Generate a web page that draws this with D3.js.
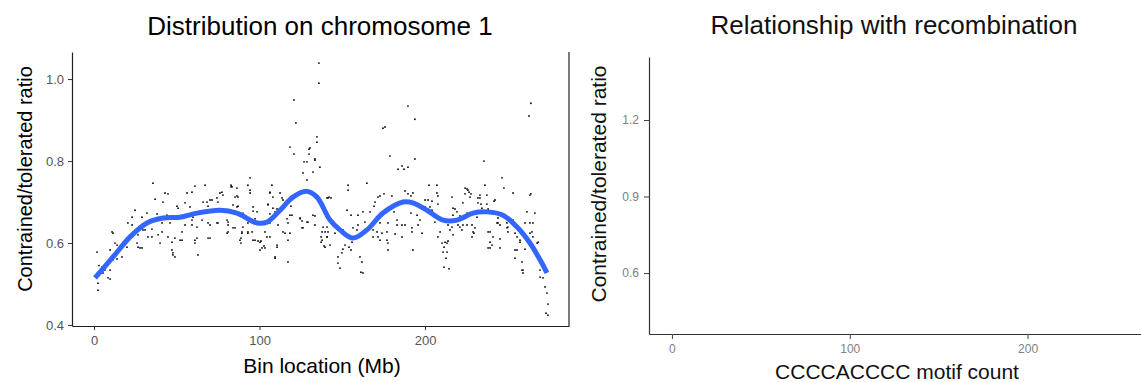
<!DOCTYPE html>
<html>
<head>
<meta charset="utf-8">
<script src="https://cdn.jsdelivr.net/npm/d3@7"></script>
<style>
  body { margin: 0; background: #fff; }
  svg { display: block; font-family: "Liberation Sans", Arial, sans-serif; }
</style>
</head>
<body>
<div id="chart"></div>
<script>
// Titles and axis labels
const leftTitle = "Distribution on chromosome 1";
const rightTitle = "Relationship with recombination";
const leftXLabel = "Bin location (Mb)";
const rightXLabel = "CCCCACCCC motif count";
const yLabel = "Contrained/tolerated ratio";

// Tick values
const leftXTicks = [0, 100, 200];
const leftYTicks = [0.4, 0.6, 0.8, 1.0];
const rightXTicks = [0, 100, 200];
const rightYTicks = [0.6, 0.9, 1.2];

// Per-bin ratios, [bin location (Mb), ratio]
const binPoints = [
  [35.6,0.746],[42.9,0.722],[44.7,0.720],[61.0,0.739],[67.1,0.741],[36.9,0.707],[41.7,0.700],[56.2,0.722],
  [59.2,0.724],[65.9,0.700],[55.0,0.698],[50.1,0.690],[24.8,0.680],[32.0,0.673],[38.1,0.671],[44.1,0.668],
  [50.8,0.685],[58.0,0.688],[64.0,0.676],[23.0,0.663],[29.0,0.663],[50.1,0.663],[59.8,0.663],[65.3,0.656],
  [20.5,0.649],[23.0,0.644],[30.8,0.632],[35.0,0.634],[41.1,0.627],[53.2,0.627],[55.0,0.644],[59.2,0.644],
  [68.9,0.649],[10.9,0.627],[11.5,0.624],[26.6,0.620],[32.6,0.615],[38.7,0.620],[48.9,0.612],[52.0,0.607],
  [61.0,0.607],[62.2,0.612],[68.9,0.612],[12.7,0.600],[13.9,0.595],[19.9,0.590],[26.6,0.590],[29.0,0.588],
  [47.1,0.602],[47.1,0.583],[47.7,0.576],[48.9,0.566],[62.8,0.571],[1.8,0.578],[9.7,0.583],[14.5,0.578],
  [16.9,0.566],[13.9,0.561],[11.5,0.559],[4.8,0.541],[6.6,0.534],[9.7,0.534],[3.6,0.527],[8.5,0.515],
  [1.8,0.517],[2.4,0.502],[2.4,0.485],[5.4,0.527],[9.7,0.512],[0.8,0.520],[3.0,0.545],
  [70.1,0.705],[74.3,0.710],[76.1,0.722],[77.9,0.717],[83.4,0.737],[86.4,0.715],[84.0,0.693],[86.4,0.688],
  [93.0,0.741],[94.3,0.759],[94.3,0.729],[96.1,0.688],[107.5,0.741],[106.3,0.724],[108.1,0.712],[112.4,0.722],
  [114.2,0.705],[105.1,0.693],[108.1,0.685],[118.4,0.834],[122.0,0.893],[120.8,0.949],[135.9,1.039],[135.9,0.990],
  [134.7,0.859],[134.7,0.846],[130.5,0.832],[128.7,0.798],[133.5,0.805],[136.5,0.785],[132.3,0.773],[126.3,0.771],
  [128.7,0.754],[140.8,0.710],[124.5,0.659],[128.7,0.651],[132.3,0.668],[125.7,0.637],[137.8,0.627],[137.8,0.607],
  [139.6,0.590],[140.8,0.615],[118.4,0.668],[117.2,0.649],[114.2,0.627],[117.2,0.607],[110.6,0.590],[109.4,0.566],
  [117.2,0.554],[104.5,0.615],[100.3,0.602],[101.5,0.588],[96.1,0.607],[88.2,0.607],[89.4,0.624],[93.0,0.627],
  [84.0,0.637],[80.4,0.656],[81.0,0.627],[74.3,0.649],[70.1,0.612],[61.0,0.600],[53.2,0.607],[47.7,0.571],
  [39.9,0.600],[35.0,0.615],[29.6,0.632],[26.0,0.600],[27.8,0.588],[59.2,0.656],[62.2,0.639],[52.0,0.661],
  [45.9,0.649],[41.1,0.649],[44.7,0.615],
  [129.9,0.829],[120.8,0.817],[129.9,0.817],[133.5,0.802],[126.9,0.798],[82.8,0.741],[82.8,0.737],[86.4,0.734],
  [77.3,0.724],[85.2,0.712],[87.0,0.712],[94.3,0.722],[106.3,0.722],[113.6,0.710],[120.8,0.717],[71.3,0.705],
  [68.3,0.700],[74.9,0.700],[87.0,0.690],[68.9,0.690],[105.1,0.695],[110.6,0.683],[119.0,0.690],[142.0,0.712],
  [90.0,0.673],[96.1,0.678],[98.5,0.676],[106.3,0.671],[109.4,0.676],[119.6,0.668],[124.5,0.661],[125.7,0.654],
  [133.5,0.666],[129.3,0.651],[116.6,0.659],[111.2,0.644],[70.1,0.644],[74.9,0.649],[81.0,0.651],[81.0,0.644],
  [85.2,0.637],[90.0,0.639],[93.0,0.649],[97.3,0.659],[106.3,0.649],[126.3,0.637],[133.5,0.644],[138.4,0.639],
  [139.6,0.627],[80.4,0.624],[89.4,0.627],[93.0,0.624],[95.5,0.627],[103.3,0.627],[106.3,0.615],[115.4,0.624],
  [118.4,0.624],[88.8,0.612],[88.8,0.600],[97.3,0.607],[99.1,0.605],[100.9,0.605],[102.7,0.593],[103.3,0.588],
  [100.3,0.583],[110.6,0.595],[137.2,0.615],[137.2,0.602],[139.0,0.593],[109.4,0.563],
  [189.7,0.934],[193.9,0.902],[174.6,0.880],[175.8,0.883],[178.8,0.812],[193.9,0.805],[183.7,0.780],[186.1,0.788],
  [187.3,0.780],[189.7,0.785],[153.5,0.741],[153.5,0.729],[164.9,0.746],[141.4,0.710],[143.2,0.710],[171.6,0.712],
  [172.8,0.715],[175.2,0.720],[180.0,0.715],[169.8,0.700],[169.2,0.690],[187.9,0.727],[189.7,0.720],[191.5,0.715],
  [192.7,0.722],[200.0,0.705],[201.8,0.705],[204.2,0.702],[202.4,0.741],[207.2,0.741],[207.2,0.722],[207.8,0.715],
  [207.8,0.695],[200.0,0.688],[152.9,0.680],[155.3,0.668],[159.5,0.668],[162.5,0.676],[166.8,0.676],[163.7,0.651],
  [159.5,0.644],[156.5,0.637],[158.9,0.632],[150.4,0.632],[145.6,0.624],[141.4,0.627],[140.8,0.615],[142.6,0.595],
  [168.6,0.632],[172.8,0.649],[171.0,0.627],[174.0,0.624],[177.0,0.627],[177.6,0.649],[181.3,0.676],[183.1,0.656],
  [183.1,0.644],[186.1,0.644],[187.9,0.644],[192.1,0.637],[192.1,0.627],[191.5,0.673],[195.2,0.668],[195.8,0.644],
  [198.2,0.624],[197.0,0.656],[206.0,0.651],[207.8,0.615],[210.3,0.600],[211.5,0.590],[210.9,0.578],[212.7,0.563],
  [211.5,0.541],[214.5,0.537],[181.9,0.622],[186.1,0.615],[177.6,0.583],[192.7,0.583],[171.6,0.615],[172.8,0.607],
  [177.0,0.607],[177.6,0.600],[168.6,0.615],[152.9,0.617],[155.9,0.602],[154.1,0.590],[151.7,0.595],[150.4,0.585],
  [149.8,0.576],[147.4,0.566],[147.4,0.551],[148.6,0.539],[160.7,0.566],[161.9,0.554],[161.3,0.529],[162.5,0.527],
  [155.3,0.583],[140.8,0.639],
  [203.0,0.688],[204.2,0.680],[216.3,0.712],[216.9,0.685],[213.9,0.644],[215.1,0.632],[209.1,0.627],[212.1,0.602],
  [213.3,0.600],[213.3,0.578],[216.9,0.668],[219.9,0.644],[222.9,0.644],[225.4,0.644],[224.2,0.734],[226.0,0.729],
  [227.2,0.712],[233.2,0.717],[233.2,0.710],[229.0,0.627],[228.4,0.615],[236.2,0.741],[235.6,0.800],[246.5,0.759],
  [247.7,0.734],[242.3,0.705],[239.3,0.627],[239.3,0.588],[245.3,0.588],[234.4,0.685],[231.4,0.663],[243.5,0.649],
  [249.5,0.649],[250.1,0.627],[253.2,0.656],[255.6,0.615],[257.4,0.602],[255.6,0.583],[254.4,0.563],[258.6,0.554],
  [259.2,0.534],[263.4,0.717],[261.6,0.676],[263.4,0.649],[265.2,0.649],[266.4,0.673],[263.4,0.624],[265.2,0.615],
  [267.7,0.600],[265.2,0.583],[262.8,0.910],[264.0,0.941],[269.5,0.517],[272.5,0.493],[273.7,0.478],[274.3,0.451],
  [274.3,0.424],[273.1,0.429],
  [225.4,0.732],[226.6,0.724],[224.2,0.720],[227.8,0.720],[232.0,0.710],[237.4,0.717],[241.7,0.702],[253.2,0.722],
  [264.0,0.720],[222.9,0.698],[232.0,0.698],[233.8,0.695],[237.4,0.695],[218.1,0.683],[219.3,0.676],[225.4,0.673],
  [238.1,0.683],[221.1,0.666],[244.1,0.661],[216.3,0.639],[221.1,0.639],[222.3,0.632],[228.4,0.644],[230.2,0.637],
  [244.1,0.649],[245.3,0.644],[250.1,0.639],[260.4,0.649],[229.6,0.624],[238.1,0.627],[241.1,0.615],[249.5,0.637],
  [216.9,0.620],[213.9,0.605],[239.3,0.602],[240.5,0.595],[245.3,0.610],[254.4,0.624],[257.4,0.607],[264.6,0.627],
  [268.3,0.602],[238.1,0.588],[254.4,0.583],[260.4,0.585],[258.6,0.534],[259.2,0.527],[269.5,0.534],[271.3,0.515]
];

// Smoothed trend (loess-like fit)
const smoothMb = [0.6, 11.5, 21.8, 32.0, 41.7, 52.0, 62.2, 76.1, 86.4, 98.5, 104.5, 112.4, 120.2, 128.7, 134.7,
  142.6, 148.6, 156.5, 164.9, 174.6, 186.7, 192.7, 201.2, 210.9, 219.3, 229.0, 237.5, 247.1, 255.6, 263.4, 269.5, 273.7];
const smoothRatio = [0.515, 0.566, 0.615, 0.649, 0.661, 0.663, 0.673, 0.680, 0.673, 0.649, 0.651, 0.680, 0.712, 0.726, 0.712,
  0.656, 0.632, 0.612, 0.632, 0.673, 0.700, 0.698, 0.680, 0.656, 0.656, 0.673, 0.676, 0.668, 0.639, 0.600, 0.559, 0.527];

const W = 1141, H = 382;
const svg = d3.select("#chart").append("svg").attr("width", W).attr("height", H);

// ---- Left panel ----
const L = { left: 72, right: 569, top: 52, bottom: 326 };
const xL = d3.scaleLinear().domain([-13.3, 287]).range([L.left, L.right]);
const yL = d3.scaleLinear().domain([0.3976, 1.066]).range([L.bottom, L.top]);

const gL = svg.append("g");

gL.append("g")
    .selectAll("circle")
    .data(binPoints)
    .enter()
    .append("circle")
    .attr("cx", d => xL(d[0]))
    .attr("cy", d => yL(d[1]))
    .attr("r", 0.9)
    .attr("fill", "#000");

const smooth = smoothMb.map((m, i) => [m, smoothRatio[i]]);
gL.append("path")
    .datum(smooth)
    .attr("fill", "none")
    .attr("stroke", "#3366FF")
    .attr("stroke-width", 5)
    .attr("stroke-linejoin", "round")
    .attr("d", d3.line().x(d => xL(d[0])).y(d => yL(d[1])).curve(d3.curveCatmullRom));

// right border of the panel
gL.append("line")
    .attr("x1", L.right).attr("x2", L.right)
    .attr("y1", L.top).attr("y2", L.bottom)
    .attr("stroke", "#222").attr("stroke-width", 1.2);

const axL = gL.append("g").attr("transform", `translate(${L.left},0)`)
    .call(d3.axisLeft(yL).tickValues(leftYTicks).tickFormat(d3.format(".1f")).tickSize(4).tickSizeOuter(0).tickPadding(4));
const axB = gL.append("g").attr("transform", `translate(0,${L.bottom})`)
    .call(d3.axisBottom(xL).tickValues(leftXTicks).tickSize(4).tickSizeOuter(0).tickPadding(6));
[axL, axB].forEach(a => {
    a.select(".domain").attr("stroke", "#222").attr("stroke-width", 1.2);
    a.selectAll(".tick line").attr("stroke", "#333");
    a.selectAll(".tick text").attr("fill", "#555").style("font-size", "13px");
});

gL.append("text")
    .attr("x", 320).attr("y", 35)
    .attr("text-anchor", "middle")
    .style("font-size", "26px")
    .text(leftTitle);

gL.append("text")
    .attr("x", 322).attr("y", 373)
    .attr("text-anchor", "middle")
    .style("font-size", "21px")
    .text(leftXLabel);

gL.append("text")
    .attr("transform", "translate(32,179) rotate(-90)")
    .attr("text-anchor", "middle")
    .style("font-size", "20px")
    .text(yLabel);

// ---- Right panel (no data drawn) ----
const R = { left: 649, right: 1141, top: 57, bottom: 334 };
const xR = d3.scaleLinear().domain([-12.9, 263.8]).range([R.left, R.right]);
const yR = d3.scaleLinear().domain([0.361, 1.447]).range([R.bottom, R.top]);

const gR = svg.append("g");
const axRL = gR.append("g").attr("transform", `translate(${R.left},0)`)
    .call(d3.axisLeft(yR).tickValues(rightYTicks).tickFormat(d3.format(".1f")).tickSize(5).tickSizeOuter(0).tickPadding(5));
const axRB = gR.append("g").attr("transform", `translate(0,${R.bottom})`)
    .call(d3.axisBottom(xR).tickValues(rightXTicks).tickSize(5).tickSizeOuter(0).tickPadding(5));
[axRL, axRB].forEach(a => {
    a.select(".domain").attr("stroke", "#333").attr("stroke-width", 1.2);
    a.selectAll(".tick line").attr("stroke", "#444");
    a.selectAll(".tick text").attr("fill", "#808080").style("font-size", "12px");
});

gR.append("text")
    .attr("x", 894).attr("y", 34)
    .attr("text-anchor", "middle")
    .style("font-size", "26px")
    .attr("fill", "#111")
    .text(rightTitle);

gR.append("text")
    .attr("x", 897).attr("y", 379)
    .attr("text-anchor", "middle")
    .style("font-size", "21px")
    .attr("fill", "#111")
    .text(rightXLabel);

gR.append("text")
    .attr("transform", "translate(606,184) rotate(-90)")
    .attr("text-anchor", "middle")
    .style("font-size", "21px")
    .attr("fill", "#111")
    .text(yLabel);
</script>
</body>
</html>
